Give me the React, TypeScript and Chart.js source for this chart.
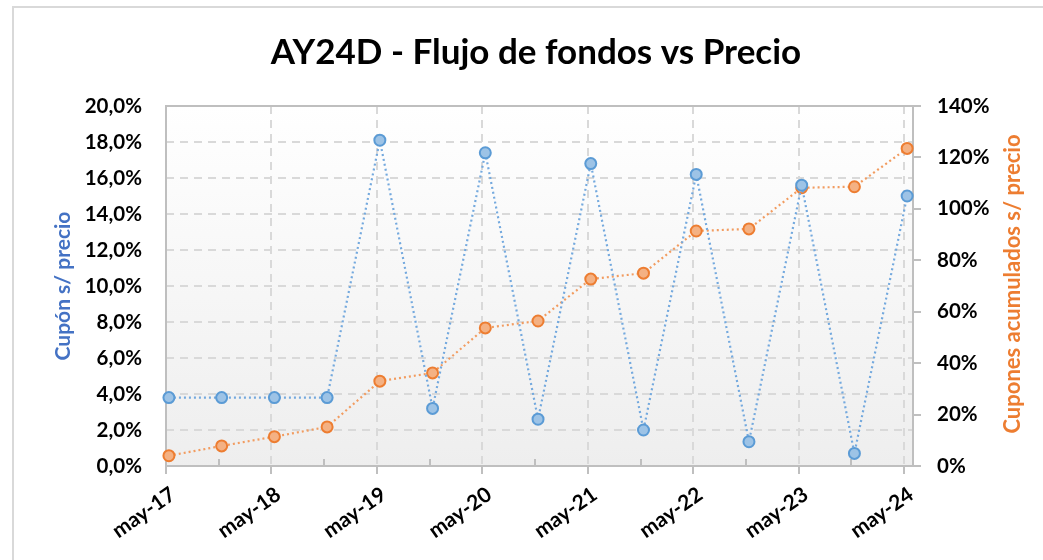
import React, { useEffect, useRef } from "react";
import { Chart, registerables } from "chart.js";

Chart.register(...registerables);

// ---- Data ----
const chartTitle = "AY24D - Flujo de fondos vs Precio";
const leftAxisTitle = "Cupón s/ precio";
const rightAxisTitle = "Cupones acumulados s/ precio";

const couponDates = [
  "2017-05-11", "2017-11-11", "2018-05-11", "2018-11-11", "2019-05-11",
  "2019-11-11", "2020-05-11", "2020-11-11", "2021-05-11", "2021-11-11",
  "2022-05-11", "2022-11-11", "2023-05-11", "2023-11-11", "2024-05-11",
];
// Cupón s/ precio (%), left axis
const cuponSobrePrecio = [3.8, 3.8, 3.8, 3.8, 18.1, 3.2, 17.4, 2.6, 16.8, 2.0, 16.2, 1.35, 15.6, 0.7, 15.0];
// Cupones acumulados s/ precio (%), right axis
const cuponesAcumulados = [4.0, 7.8, 11.4, 15.2, 33.0, 36.2, 53.7, 56.4, 72.7, 75.0, 91.4, 92.2, 108.2, 108.6, 123.5];

const xTickLabels = ["may-17", "may-18", "may-19", "may-20", "may-21", "may-22", "may-23", "may-24"];
const xTickMonths = [0, 12, 24, 36, 48, 60, 72, 84];
const xMinorTickMonths = [6, 18, 30, 42, 54, 66, 78];
const xAxisMaxMonths = 85; // jun-24

// months since 1 may 2017
const toMonths = (d: string) => {
  const [y, m, day] = d.split("-").map(Number);
  return (y - 2017) * 12 + (m - 5) + (day - 1) / 30;
};

const FONT = "Lato, 'Open Sans', sans-serif";
const BLUE = "#5b9bd5";
const ORANGE = "#ed7d31";

const decorPlugin = {
  id: "decor",
  beforeDraw(chart: any) {
    const { ctx, chartArea } = chart;
    ctx.save();
    // outer chart border (top and left visible)
    ctx.strokeStyle = "#d9d9d9";
    ctx.lineWidth = 2;
    ctx.beginPath();
    ctx.moveTo(13, 560);
    ctx.lineTo(13, 7);
    ctx.lineTo(1043, 7);
    ctx.stroke();
    // plot area gradient
    const g = ctx.createLinearGradient(0, chartArea.top, 0, chartArea.bottom);
    g.addColorStop(0, "#ffffff");
    g.addColorStop(1, "#eeeeee");
    ctx.fillStyle = g;
    ctx.fillRect(chartArea.left, chartArea.top, chartArea.right - chartArea.left, chartArea.bottom - chartArea.top);
    ctx.restore();
  },
  beforeDatasetsDraw(chart: any) {
    const { ctx, chartArea, scales } = chart;
    ctx.save();
    ctx.strokeStyle = "#bfbfbf";
    ctx.lineWidth = 2;
    // minor ticks (inside)
    ctx.beginPath();
    for (const m of xMinorTickMonths) {
      const x = Math.round(scales.x.getPixelForValue(m));
      ctx.moveTo(x, chartArea.bottom);
      ctx.lineTo(x, chartArea.bottom - 7);
    }
    ctx.stroke();
    // frame
    ctx.strokeRect(chartArea.left, chartArea.top, chartArea.right - chartArea.left, chartArea.bottom - chartArea.top);
    ctx.restore();
  },
  afterDraw(chart: any) {
    const { ctx, chartArea } = chart;
    ctx.save();
    ctx.fillStyle = "#000";
    ctx.textAlign = "center";
    ctx.textBaseline = "alphabetic";
    ctx.font = `bold 35px ${FONT}`;
    ctx.fillText(chartTitle, 536, 64);

    const midY = (chartArea.top + chartArea.bottom) / 2;
    ctx.font = `bold 21px ${FONT}`;
    ctx.textBaseline = "middle";
    ctx.fillStyle = "#4472c4";
    ctx.translate(63, midY);
    ctx.rotate(-Math.PI / 2);
    ctx.fillText(leftAxisTitle, 0, 0);
    ctx.setTransform(1, 0, 0, 1, 0, 0);
    ctx.font = `bold 22px ${FONT}`;
    ctx.fillStyle = ORANGE;
    ctx.translate(1013, 284);
    ctx.rotate(-Math.PI / 2);
    ctx.fillText(rightAxisTitle, 0, 0);
    ctx.restore();
  },
};

export default function App() {
  const ref = useRef<HTMLCanvasElement>(null);

  useEffect(() => {
    if (!ref.current) return;
    const xs = couponDates.map(toMonths);
    const chart = new Chart(ref.current, {
      type: "line",
      data: {
        datasets: [
          {
            label: leftAxisTitle,
            data: xs.map((x, i) => ({ x, y: cuponSobrePrecio[i] })),
            yAxisID: "y",
            borderColor: "#74a9de",
            borderWidth: 2.2,
            borderDash: [2, 3],
            pointRadius: 5.5,
            pointBorderWidth: 2,
            pointBackgroundColor: "#9dc3e6",
            pointBorderColor: BLUE,
            tension: 0,
            clip: false,
          },
          {
            label: rightAxisTitle,
            data: xs.map((x, i) => ({ x, y: cuponesAcumulados[i] })),
            yAxisID: "y1",
            borderColor: "#f29c60",
            borderWidth: 2.2,
            borderDash: [2, 3],
            pointRadius: 5.5,
            pointBorderWidth: 2,
            pointBackgroundColor: "#f4b183",
            pointBorderColor: ORANGE,
            tension: 0,
            clip: false,
          },
        ],
      },
      options: {
        animation: false,
        responsive: false,
        layout: { padding: { top: 106, left: 0, right: 0, bottom: 0 } },
        plugins: { legend: { display: false }, tooltip: { enabled: false }, title: { display: false } },
        scales: {
          x: {
            type: "linear",
            min: 0,
            max: xAxisMaxMonths,
            afterBuildTicks: (s: any) => {
              s.ticks = xTickMonths.map((v) => ({ value: v }));
            },
            afterFit: (s: any) => {
              s.height = 94;
            },
            ticks: {
              autoSkip: false,
              minRotation: 35,
              maxRotation: 35,
              padding: 8,
              labelOffset: 7,
              color: "#000",
              font: { family: FONT, size: 21, weight: "bold" },
              callback: (v: any) => xTickLabels[xTickMonths.indexOf(Number(v))] ?? "",
            },
            grid: {
              color: "#d9d9d9",
              lineWidth: 2,
              drawTicks: true,
              tickLength: 8,
              tickColor: "#bfbfbf",
              tickBorderDash: [],
            },
            border: { display: false, dash: [8, 6] },
          },
          y: {
            type: "linear",
            position: "left",
            min: 0,
            max: 20,
            afterFit: (s: any) => {
              s.width = 166;
            },
            ticks: {
              stepSize: 2,
              padding: 24,
              color: "#000",
              font: { family: FONT, size: 20.5, weight: "bold" },
              callback: (v: any) => Number(v).toFixed(1).replace(".", ",") + "%",
            },
            grid: { color: "#d9d9d9", lineWidth: 2, drawTicks: false },
            border: { display: false, dash: [8, 6] },
          },
          y1: {
            type: "linear",
            position: "right",
            min: 0,
            max: 140,
            afterFit: (s: any) => {
              s.width = 130;
            },
            ticks: {
              stepSize: 20,
              padding: 16,
              color: "#000",
              font: { family: FONT, size: 20.5, weight: "bold" },
              callback: (v: any) => v + "%",
            },
            grid: { drawOnChartArea: false, drawTicks: true, tickLength: 8, tickColor: "#bfbfbf", lineWidth: 2 },
            border: { display: false },
          },
        },
      },
      plugins: [decorPlugin],
    });
    return () => chart.destroy();
  }, []);

  return (
    <div style={{ position: "fixed", left: 0, top: 0, width: 1043, height: 560, background: "#fff" }}>
      <canvas ref={ref} width={1043} height={560} style={{ display: "block" }} />
    </div>
  );
}
